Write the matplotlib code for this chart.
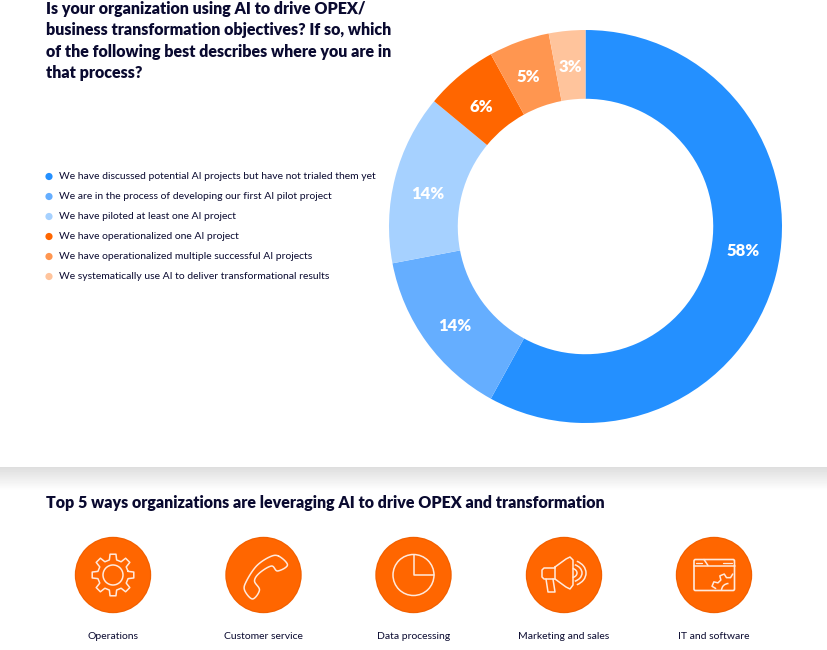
import numpy as np
import matplotlib
matplotlib.use("Agg")
import matplotlib.pyplot as plt
from matplotlib.patches import Circle, Arc, FancyBboxPatch

title_lines = ["Is your organization using AI to drive OPEX/",
               "business transformation objectives? If so, which",
               "of the following best describes where you are in",
               "that process?"]
categories = ["We have discussed potential AI projects but have not trialed them yet",
              "We are in the process of developing our first AI pilot project",
              "We have piloted at least one AI project",
              "We have operationalized one AI project",
              "We have operationalized multiple successful AI projects",
              "We systematically use AI to deliver transformational results"]
values = [58, 14, 14, 6, 5, 3]
colors = ["#2490ff", "#65aeff", "#a6d1ff", "#ff6600", "#ff9650", "#ffc49c"]
sub_title = "Top 5 ways organizations are leveraging AI to drive OPEX and transformation"
ways = ["Operations", "Customer service", "Data processing", "Marketing and sales", "IT and software"]
way_x = [113, 263.5, 413.5, 564, 714]

NAVY = "#0a0a30"
ICON = "#ffe9dc"
plt.rcParams['font.family'] = ['Lato', 'DejaVu Sans']

fig = plt.figure(figsize=(8.27, 6.5), dpi=100)
# background axes in pixel coordinates, y going down
ax = fig.add_axes([0, 0, 1, 1])
ax.set_xlim(0, 827)
ax.set_ylim(650, 0)
ax.axis("off")

# shadow under the top panel
grad = np.linspace(0.84, 1.0, 24).reshape(-1, 1) ** 0.8
ax.imshow(grad, cmap="gray", vmin=0, vmax=1, extent=(0, 827, 491, 467), aspect="auto", zorder=0)
ax.set_xlim(0, 827)
ax.set_ylim(650, 0)

for i, line_txt in enumerate(title_lines):
    ax.text(46, 9 + i * 21.3, line_txt, fontsize=11.5, fontweight="heavy", color=NAVY, va="center", ha="left")

for i, (cat, col) in enumerate(zip(categories, colors)):
    y = 176.5 + i * 20
    ax.add_patch(Circle((49, y), 3.6, color=col, lw=0))
    ax.text(59, y, cat, fontsize=7.5, color=NAVY, va="center", ha="left")

ax.text(46, 503, sub_title, fontsize=11.5, fontweight="heavy", color=NAVY, va="center", ha="left")

# donut
ax2 = fig.add_axes([389 / 827, 1 - 423 / 650, 393 / 827, 393 / 650])
wedges, _, autotexts = ax2.pie(values, colors=colors, startangle=90, counterclock=False,
                               radius=1, wedgeprops=dict(width=0.35), autopct="%.0f%%", pctdistance=0.825,
                               textprops=dict(color="white", fontsize=12, fontweight="heavy"))
ax2.set_xlim(-1, 1)
ax2.set_ylim(-1, 1)

# labels sit a little off the wedge middle in the original (pixels)
nudges = [(1, -16), (0, 4), (-1, 8), (-1, 5), (-2, 3), (0, 2)]
for at, (dx, dy) in zip(autotexts, nudges):
    px, py = at.get_position()
    at.set_position((px + dx / 196.5, py - dy / 196.5))


def line(xs, ys, lw=1.1):
    ax.plot(xs, ys, color=ICON, lw=lw, solid_capstyle="round", solid_joinstyle="round", zorder=5)


def smooth_closed(pts, n=8):
    # catmull-rom through the outline points
    pts = np.array(pts, dtype=float)
    out = []
    for i in range(len(pts)):
        p0, p1, p2, p3 = pts[i - 1], pts[i], pts[(i + 1) % len(pts)], pts[(i + 2) % len(pts)]
        for t in np.linspace(0, 1, n, endpoint=False):
            out.append(0.5 * (2 * p1 + (p2 - p0) * t + (2 * p0 - 5 * p1 + 4 * p2 - p3) * t ** 2
                              + (3 * p1 - p0 - 3 * p2 + p3) * t ** 3))
    out.append(out[0])
    return np.array(out)


def gear_outline(cx, cy, r_out, r_in, teeth, rot=0.0):
    a = []
    r = []
    for k in range(teeth):
        base = rot + 2 * np.pi * k / teeth
        w = 2 * np.pi / teeth
        a += [base - 0.30 * w, base - 0.18 * w, base + 0.18 * w, base + 0.30 * w]
        r += [r_in, r_out, r_out, r_in]
    a.append(a[0])
    r.append(r[0])
    a = np.array(a)
    r = np.array(r)
    return cx + r * np.cos(a), cy + r * np.sin(a)


def gear_icon(cx, cy):
    xs, ys = gear_outline(cx, cy, 21, 15.5, 8)
    line(xs, ys)
    ax.add_patch(Circle((cx, cy), 10, fill=False, ec=ICON, lw=1.1, zorder=5))


def phone_icon(cx, cy):
    pts = [(15, -19), (24, -10), (14, -4), (8, -9), (-4, -2), (-9, 6), (-4, 15), (-11, 24),
           (-19, 15), (-17, 6), (-7, -9), (6, -18)]
    o = smooth_closed([(cx + p[0], cy + p[1]) for p in pts])
    line(o[:, 0], o[:, 1])


def pie_icon(cx, cy):
    ax.add_patch(Circle((cx, cy), 20.5, fill=False, ec=ICON, lw=1.1, zorder=5))
    line([cx, cx, cx + 20.5], [cy - 20.5, cy, cy])


def megaphone_icon(cx, cy):
    line(np.array([-9, -20, -22, -22, -20, -9]) + cx, np.array([-7, -7, -5, 2, 4, 4]) + cy)
    cone = [(-9, -8), (2, -16), (6, -18), (9, -15), (9, 10), (6, 14), (2, 12), (-9, 4), (-9, -8)]
    line([cx + p[0] for p in cone], [cy + p[1] for p in cone])
    handle = [(-18, 4), (-16, 17), (-9, 17), (-11, 4)]
    line([cx + p[0] for p in handle], [cy + p[1] for p in handle])
    for rx, ry in ((7, 5), (12, 9), (16, 13)):
        ax.add_patch(Arc((cx + 6, cy - 2), 2 * rx, 2 * ry, theta1=-60, theta2=60, ec=ICON, lw=1.1, zorder=5))


def window_icon(cx, cy):
    ax.add_patch(FancyBboxPatch((cx - 20, cy - 15.5), 40.5, 31, boxstyle="round,pad=0,rounding_size=1.5",
                                fill=False, ec=ICON, lw=1.2, zorder=5))
    line([cx - 20, cx + 20.5], [cy - 9.5, cy - 9.5])
    line([cx - 10, cx - 6], [cy - 15.5, cy - 9.5])
    line([cx - 18, cx - 12.5], [cy - 12.5, cy - 12.5], lw=0.9)
    line([cx + 8.5, cx + 18], [cy - 12.5, cy - 12.5], lw=0.9)
    xs, ys = gear_outline(cx + 14.5, cy + 15.5, 17, 13, 8, rot=np.pi / 8)
    keep = (xs <= cx + 20.5) & (ys <= cy + 15.5)
    line(xs[keep], ys[keep])
    ax.add_patch(Arc((cx + 14.5, cy + 15.5), 14, 14, theta1=180, theta2=270, ec=ICON, lw=1.1, zorder=5))


icons = [gear_icon, phone_icon, pie_icon, megaphone_icon, window_icon]
for x, way, icon in zip(way_x, ways, icons):
    ax.add_patch(Circle((x, 575), 38.2, color="#f26000", lw=0, zorder=3))
    ax.add_patch(Circle((x, 575), 37, color="#ff6600", lw=0, zorder=4))
    icon(x, 575)
    ax.text(x, 636.5, way, fontsize=7.5, color=NAVY, va="center", ha="center")

fig.savefig("out.png", dpi=100)
